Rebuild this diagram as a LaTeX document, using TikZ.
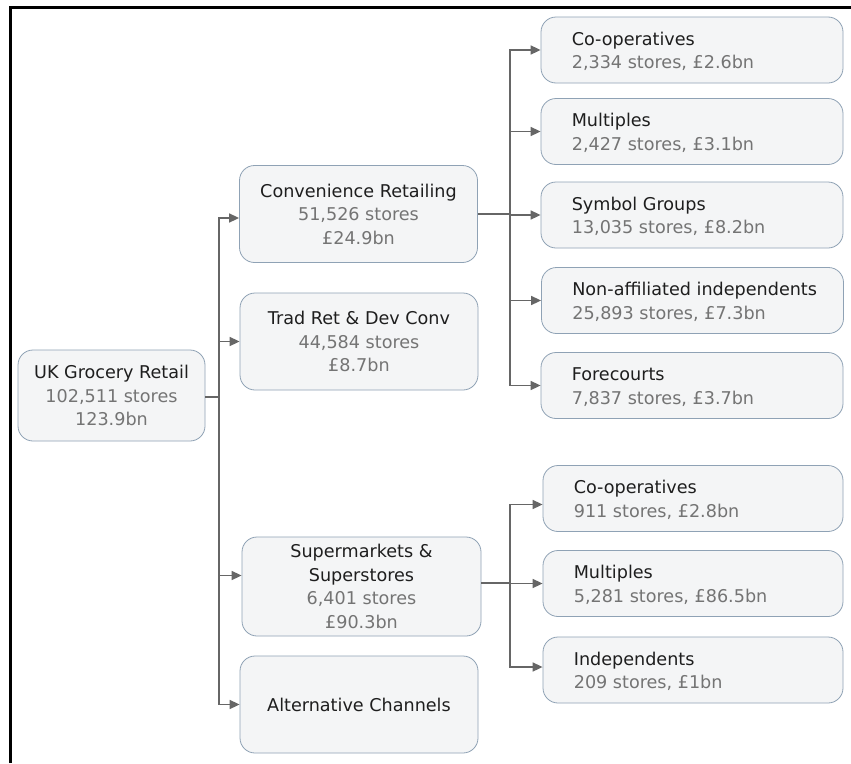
\documentclass[tikz,border=0pt]{standalone}
\usepackage{fontspec}
\setmainfont{DejaVu Sans}
\usetikzlibrary{arrows.meta}
\definecolor{boxfill}{HTML}{F4F5F6}
\definecolor{boxline}{HTML}{8FA2B5}
\definecolor{linkgray}{HTML}{666666}
\definecolor{subgray}{HTML}{747474}
\definecolor{titlegray}{HTML}{1E1E1E}
\newcommand{\sub}[1]{{\color{subgray}#1}}
% a leaf box with its left-aligned two-line text
\newcommand{\leaf}[5][302]{%
  \node[leafbox, minimum width=#1pt] (#2) at (#3) {};
  \node[leaftext] (#2-text) at ([xshift=31pt]#2.west) {#4\\\sub{#5}};}
\begin{document}
\begin{tikzpicture}[x=1pt,y=-1pt,
  every node/.style={font=\fontsize{17.6}{23.5}\selectfont, text=titlegray},
  box/.style={draw=boxline, line width=0.8pt, fill=boxfill, rounded corners=15pt},
  midbox/.style={box, minimum width=238pt, minimum height=97pt, align=center, inner sep=0pt},
  leafbox/.style={box, minimum height=66pt, inner sep=0pt},
  leaftext/.style={anchor=west, align=left, inner sep=0pt, yshift=-1.5pt},
  link/.style={draw=linkgray, line width=1.6pt},
  arr/.style={link, -{Triangle[length=10pt,width=9pt]}}]
\useasboundingbox (0,0) rectangle (851,763);
\fill[white] (0,0) rectangle (851,763);
% frame
\draw[line width=3pt] (10,763) -- (10,7) -- (851,7);

% root
\node[box, minimum width=187pt, minimum height=91pt, align=center, inner sep=0pt] (root) at (111.5,395.5)
  {UK Grocery Retail\\\sub{102,511 stores}\\\sub{123.9bn}};

% second level
\node[midbox] (conv) at (358.5,214) {Convenience Retailing\\\sub{51,526 stores}\\\sub{£24.9bn}};
\node[midbox] (trad) at (359,341.5) {Trad Ret \& Dev Conv\\\sub{44,584 stores}\\\sub{£8.7bn}};
\node[midbox, minimum width=239pt, minimum height=99pt] (super) at (361.5,586.5)
  {Supermarkets \&\\Superstores\\\sub{6,401 stores}\\\sub{£90.3bn}};
\node[midbox] (alt) at (359,704.5) {Alternative Channels};

% convenience sub-types
\leaf{cc}{692,50}{Co-operatives}{2,334 stores, £2.6bn}
\leaf{cm}{692,131.5}{Multiples}{2,427 stores, £3.1bn}
\leaf{cs}{692,215}{Symbol Groups}{13,035 stores, £8.2bn}
\leaf{cn}{692.5,300.5}{Non-affiliated independents}{25,893 stores, £7.3bn}
\leaf{cf}{692,385.5}{Forecourts}{7,837 stores, £3.7bn}

% supermarket sub-types
\leaf[300]{sc}{693,498.5}{Co-operatives}{911 stores, £2.8bn}
\leaf[300]{sm}{693,583.5}{Multiples}{5,281 stores, £86.5bn}
\leaf[300]{si}{693,670}{Independents}{209 stores, £1bn}

% connectors
\coordinate (j1) at (219,397);
\draw[link] (root.east |- j1) -- (j1);
\draw[arr] (j1) |- ([yshift=-4pt]conv.west);
\draw[arr] (j1) |- (trad.west);
\draw[arr] (j1) |- ([yshift=11pt]super.west);
\draw[arr] (j1) |- (alt.west);

\coordinate (j2) at (510,214);
\draw[link] (conv.east) -- (j2);
\draw[arr] (j2) |- (cc.west);
\draw[arr] (j2) |- (cm.west);
\draw[arr] (j2) |- (cs.west);
\draw[arr] (j2) |- (cn.west);
\draw[arr] (j2) |- (cf.west);

\coordinate (j3) at (510,583);
\draw[link] (super.east |- j3) -- (j3);
\draw[arr] (j3) |- ([yshift=-6pt]sc.west);
\draw[arr] (j3) |- (sm.west);
\draw[arr] (j3) |- ([yshift=3pt]si.west);
\end{tikzpicture}
\end{document}
